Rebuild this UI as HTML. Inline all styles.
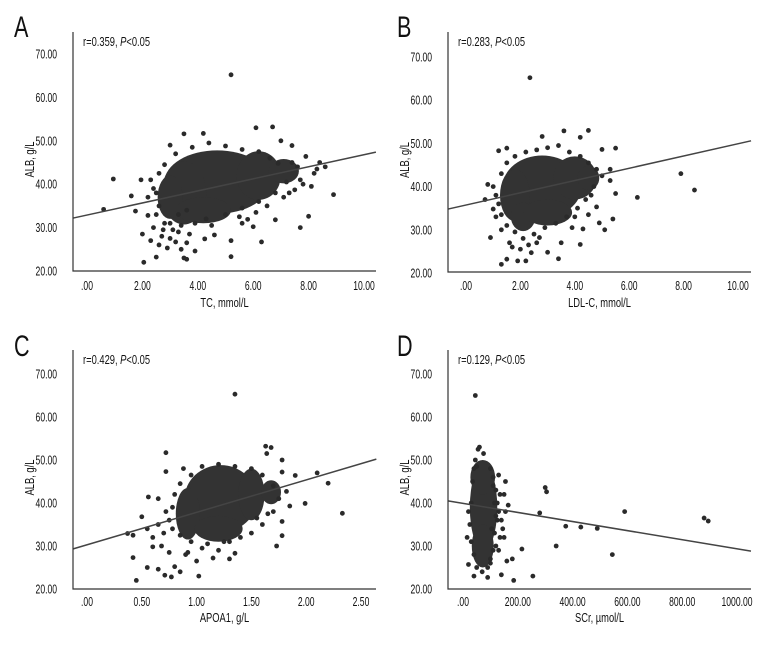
<!DOCTYPE html>
<html><head><meta charset="utf-8"><style>
html,body{margin:0;padding:0;background:#fff;}
svg{display:block;font-family:"Liberation Sans",sans-serif;}
</style></head><body>
<svg id="fig" width="780" height="648" viewBox="0 0 780 648"></svg>
<script>
// ---- Panel A: TC vs ALB ----
const aX=[5.2,0.6,0.95,1.6,1.75,2.05,1.95,2.5,2.0,2.3,2.6,3.5,3.9,5.2,5.2,6.3,8.9,7.7,8.0,6.1,6.7,3.5,4.2,3.0,7.9,8.4,8.3,7.4,7.0,6.8,7.3,7.5,4.6,4.25,3.2,2.9,3.6,2.2,2.4,2.75,5.8,6.0,2.6,2.5,2.3,7.7,8.2,7.8,3.0,3.3,3.7,4.5,5.5,6.5,7.1,
3.2,3.8,4.4,5.0,5.6,6.2,6.6,2.8,2.6,2.4,2.2,2.5,2.8,3.1,3.4,3.9,4.3,5.0,5.6,6.2,6.8,7.2,7.6,6.9,7.4,3.3,3.6,2.7,3.0,3.4,3.6,5.6,6.1,8.1,8.6];
const aY=[65.2,34.2,41.2,37.3,33.8,22,41,23.2,28.5,27,26,23,24.6,23.3,27,26.7,37.6,30,32.6,53,53.2,51.6,51.7,49,46.4,45,43.5,48.9,50,31.8,38,38.7,28.3,27.4,26.7,25.3,22.7,32.8,30,29.5,31.9,30.2,35,38,41,41,42.5,40,31,29,28.5,30.5,32.5,35,37,
47,48.5,49.5,48.8,48,47.5,46,44.5,42.5,39,37,33,31,29.5,30.5,31,32,33,34.5,36,38,40.5,44,44.8,45,33,34,28,27.5,25,26.5,31,33.5,39.5,44];
const aCoreX=[4.7,3.5,6.2,3.0,7.1,4.2];
const aCoreY=[40.5,38,42,37,43,34];
const aCoreRX=[1.9,0.8,0.8,0.45,0.55,1.0];
const aCoreRY=[7.3,7.3,5.6,5,2.8,3];
const aLineX=[-0.5,10.43];
const aLineY=[32.2,47.4];
const aXTicks=[0,2,4,6,8,10];
const aXTickLabels=[".00","2.00","4.00","6.00","8.00","10.00"];
// ---- Panel B: LDL-C vs ALB ----
const bX=[2.35,2.8,3.6,4.5,4.2,7.9,8.4,6.3,5.4,5.1,4.9,4.2,3.5,3.4,3.0,1.3,1.9,2.2,1.5,0.9,0.7,0.8,1.2,1.5,5.5,5.0,5.5,5.3,4.8,4.3,1.1,1.3,1.6,2.0,2.4,2.7,4.0,4.6,5.3,1.0,
1.0,1.1,1.2,1.3,1.5,1.8,2.2,2.6,3.0,3.4,3.8,4.2,4.5,4.8,5.0,4.7,4.4,4.1,3.7,3.3,2.9,2.5,2.1,1.8,1.5,1.3,1.7,2.3,2.6,3.9,4.5];
const bY=[65.2,51.6,52.9,53,51.4,43,39.2,37.5,32.5,30,31.6,26.6,27,23.3,24.8,22,22.8,22.8,23.2,28.2,37,40.5,48.3,48.9,48.9,48.6,38.4,44,35.3,30.2,33,30,27,25.5,24.7,28.2,33,38,41.4,34.8,
40,38,36,43,45.5,47,48,48.5,49,49.5,48,47,45.5,44,42.5,40,37,35,33,31.5,30.5,29,28,29.5,31,33.5,26,26.5,27,30.5,33.5];
const bCoreX=[2.8,1.8,4.0,2.1,4.5,3.0];
const bCoreY=[40,38,42,33,42,34];
const bCoreRX=[1.45,0.55,0.8,0.45,0.4,0.9];
const bCoreRY=[7.2,6,5,3.3,2.8,3];
const bLineX=[-0.66,10.48];
const bLineY=[34.8,50.6];
const bXTicks=[0,2,4,6,8,10];
const bXTickLabels=[".00","2.00","4.00","6.00","8.00","10.00"];
// ---- Panel C: APOA1 vs ALB ----
const cX=[1.35,0.72,0.45,0.42,0.37,0.42,0.5,0.56,0.65,0.72,0.88,0.71,0.77,1.02,1.0,1.3,1.35,1.63,1.68,1.64,1.78,1.78,1.9,2.1,2.2,2.33,1.99,1.73,1.78,1.78,1.85,1.82,0.55,0.6,0.65,0.8,0.85,0.9,1.15,0.55,0.6,0.68,0.75,
0.75,0.78,0.8,0.85,0.95,1.05,1.2,1.35,1.5,1.6,1.7,1.75,1.7,1.6,1.5,1.4,1.25,1.1,0.95,0.85,0.78,0.7,0.65,0.72,0.92,1.05,1.2,1.3,1.55,1.65];
const cY=[65.3,51.7,22,27.3,32.9,32.5,36.8,41.4,41,47.3,48,23.2,22.8,23,26.5,27,28.3,53.2,52.9,51.5,50,47.2,46.4,47,44.6,37.6,39.9,30,32.4,35.7,39.3,42.7,25,29.8,24.6,25.2,24,28,27.2,34,32,30,28.5,
36,39,42,44.5,46.5,48.5,49,48.5,48,46.5,44,41,38,35,33,32,31,30.5,31,32.5,34,33,35,38,28.5,29.5,29,31,36.5,37.5];
const cCoreX=[1.22,0.92,1.5,1.68,1.2];
const cCoreY=[41,37.5,42,42.5,34];
const cCoreRX=[0.33,0.11,0.12,0.09,0.22];
const cCoreRY=[7.8,6,6,2.8,3];
const cLineX=[-0.13,2.64];
const cLineY=[29.3,50.2];
const cXTicks=[0,0.5,1,1.5,2,2.5];
const cXTickLabels=[".00","0.50","1.00","1.50","2.00","2.50"];
// ---- Panel D: SCr vs ALB ----
const dX=[45,60,55,75,130,155,150,165,155,145,135,150,120,130,160,180,140,90,40,20,185,215,255,280,300,305,340,375,430,490,545,590,880,895,15,20,110,115,100,105,125,
30,35,40,45,50,100,110,120,125,120,115,110,100,90,70,50,40,30,25,130,135,140];
const dY=[65,53,52.5,51.5,46.5,45,42,39.5,38,34,32,32,30,29,26.5,27,23.3,22.7,23,25.7,22,29.3,23,37.7,43.6,42.6,30,34.6,34.4,34.1,28,38,36.5,35.8,32,38,44,40,27,34,36,
40,45,48,50,48.5,48,46,43,40,37,33,29,26,25,24,25,28,31,35,38,42,36];
const dCoreX=[75,72,72];
const dCoreY=[39,30,46];
const dCoreRX=[50,40,45];
const dCoreRY=[10,5,4];
const dLineX=[-55,1051];
const dLineY=[40.5,28.8];
const dXTicks=[0,200,400,600,800,1000];
const dXTickLabels=[".00","200.00","400.00","600.00","800.00","1000.00"];
// ---- shared y ticks ----
const yTicks=[20,30,40,50,60,70];
const yTickLabels=["20.00","30.00","40.00","50.00","60.00","70.00"];

const NS="http://www.w3.org/2000/svg";
const svg=document.getElementById('fig');
function mk(tag,attrs,parent){const e=document.createElementNS(NS,tag);for(const k in attrs)e.setAttribute(k,attrs[k]);(parent||svg).appendChild(e);return e;}
function txt(parent,x,y,s,anchor,size,sx,rot){
  const t=mk('text',{transform:`translate(${x},${y})${rot?' rotate(-90)':''} scale(${sx},1)`,'text-anchor':anchor,'font-size':size,fill:'#111'},parent);
  t.textContent=s;return t;
}
function panel(id,letter,g,X,Y,CX,CY,CRX,CRY,LX,LY,xt,xtl,annot,xtitle){
  const grp=mk('g',{});
  
  
  const ky=(g.y70-g.y20)/50;
  const sx=v=>g.x0px+v*g.xs;
  const sy=v=>g.y20+(v-20)*ky;
  const L=mk('text',{transform:`translate(${g.lx},${g.ly}) scale(0.72,1)`,'font-size':30,fill:'#111'},grp);
  L.textContent=letter;
  
  
  const cores=mk('g',{},grp);
  
  
  for(let i=0;i<CX.length;i++){
    const e=mk('ellipse',{cx:sx(CX[i]),cy:sy(CY[i]),rx:Math.abs(CRX[i]*g.xs),ry:Math.abs(CRY[i]*ky),fill:'#333'},cores);
    
    
  }
  const pts=mk('g',{},grp);
  
  
  for(let i=0;i<X.length;i++){
    const c=mk('circle',{cx:sx(X[i]),cy:sy(Y[i]),r:2.4,fill:'#2a2a2a'},pts);
    
    
  }
  const ln=mk('line',{x1:sx(LX[0]),y1:sy(LY[0]),x2:sx(LX[1]),y2:sy(LY[1]),stroke:'#444','stroke-width':1.5},grp);
  
  
  const ax=mk('path',{d:`M${g.left},${g.top}V${g.bottom}H${g.right}`,fill:'none',stroke:'#333','stroke-width':1.2},grp);
  
  
  for(let i=0;i<yTicks.length;i++){
    const t=txt(grp,g.ylabR,sy(yTicks[i])+4.5,yTickLabels[i],'end',13,0.66);
    
    
  }
  for(let i=0;i<xt.length;i++){
    const t=txt(grp,sx(xt[i]),g.xlabY,xtl[i],'middle',13,0.66);
    
    
  }
  const yt=txt(grp,g.ytX,(g.top+g.bottom)/2+8,'ALB, g/L','middle',13,0.72,true);
  
  
  const xtt=txt(grp,(g.left+g.right)/2,g.xtY,xtitle,'middle',13,0.72);
  
  
  const an=mk('text',{transform:`translate(${g.left+10},${g.top+14}) scale(0.72,1)`,'font-size':13,fill:'#111'},grp);
  an.innerHTML=annot[0]+'<tspan font-style="italic">P</tspan>&lt;0.05';
  
  
}
panel('a','A',{left:73,right:376,top:32,bottom:271,x0px:87,xs:27.7,y20:271,y70:54,lx:14,ly:37,ylabR:57,xlabY:290,ytX:34,xtY:307},aX,aY,aCoreX,aCoreY,aCoreRX,aCoreRY,aLineX,aLineY,aXTicks,aXTickLabels,['r=0.359, '],'TC, mmol/L');
panel('b','B',{left:448,right:751,top:32,bottom:272,x0px:466,xs:27.2,y20:273,y70:57,lx:397,ly:37,ylabR:432,xlabY:290,ytX:409,xtY:307},bX,bY,bCoreX,bCoreY,bCoreRX,bCoreRY,bLineX,bLineY,bXTicks,bXTickLabels,['r=0.283, '],'LDL-C, mmol/L');
panel('c','C',{left:73,right:376,top:350,bottom:589,x0px:87,xs:109.6,y20:589,y70:374,lx:14,ly:356,ylabR:57,xlabY:606,ytX:34,xtY:622},cX,cY,cCoreX,cCoreY,cCoreRX,cCoreRY,cLineX,cLineY,cXTicks,cXTickLabels,['r=0.429, '],'APOA1, g/L');
panel('d','D',{left:448,right:751,top:350,bottom:589,x0px:463,xs:0.274,y20:589,y70:374,lx:397,ly:356,ylabR:432,xlabY:606,ytX:409,xtY:622},dX,dY,dCoreX,dCoreY,dCoreRX,dCoreRY,dLineX,dLineY,dXTicks,dXTickLabels,['r=0.129, '],'SCr, µmol/L');
</script>
</body></html>
